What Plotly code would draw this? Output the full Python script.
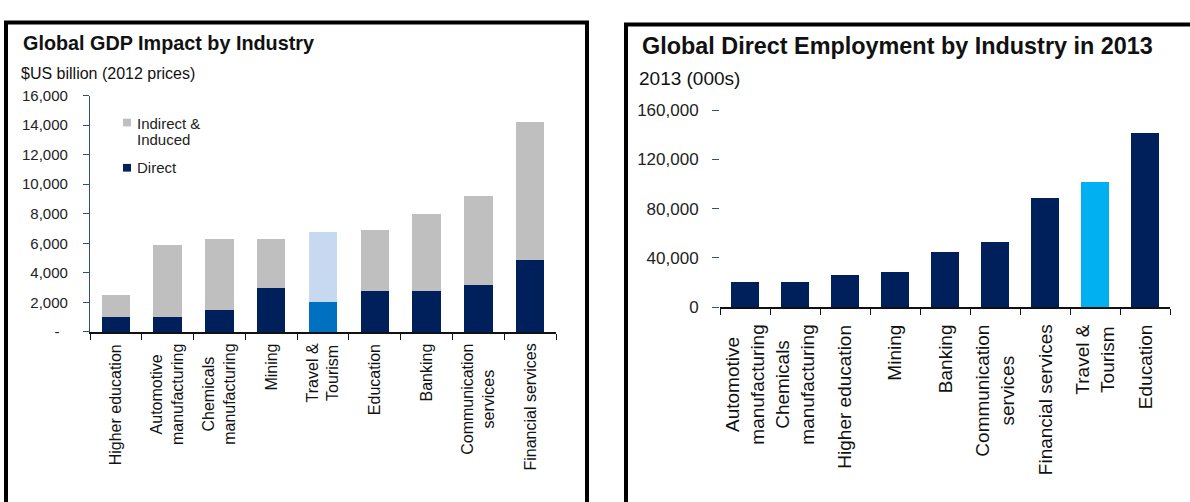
import plotly.graph_objects as go

# ---------------- data ----------------
gdp_categories = ["Higher education", "Automotive manufacturing", "Chemicals manufacturing",
                  "Mining", "Travel & Tourism", "Education", "Banking",
                  "Communication services", "Financial services"]
gdp_labels = ["Higher education", "Automotive<br>manufacturing", "Chemicals<br>manufacturing",
              "Mining", "Travel &<br>Tourism", "Education", "Banking",
              "Communication<br>services", "Financial services"]
gdp_direct = [1000, 1000, 1500, 3000, 2000, 2800, 2800, 3200, 4900]
gdp_indirect = [1500, 4900, 4800, 3300, 4800, 4100, 5200, 6000, 9300]
gdp_tickvals = [0, 2000, 4000, 6000, 8000, 10000, 12000, 14000, 16000]
gdp_ticktext = ["-\u00a0\u00a0", "2,000", "4,000", "6,000", "8,000", "10,000", "12,000", "14,000", "16,000"]

emp_categories = ["Automotive manufacturing", "Chemicals manufacturing", "Higher education",
                  "Mining", "Banking", "Communication services", "Financial services",
                  "Travel & Tourism", "Education"]
emp_labels = ["Automotive<br>manufacturing", "Chemicals<br>manufacturing", "Higher education",
              "Mining", "Banking", "Communication<br>services", "Financial services",
              "Travel &<br>Tourism", "Education"]
emp_values = [20500, 20500, 26000, 29000, 45000, 53000, 89000, 102000, 141000]
emp_tickvals = [0, 40000, 80000, 120000, 160000]
emp_ticktext = ["0", "40,000", "80,000", "120,000", "160,000"]

# ---------------- styles ----------------
W, H = 1190, 502
NAVY = "#00205b"
GREY = "#bfbfbf"
HL_DIRECT = "#0070c0"
HL_INDIRECT = "#c6d9f1"
HL_EMP = "#00b0f0"
SLATE = "#34536a"
FONT = "Liberation Sans, Arial, sans-serif"


def px(x):
    return x / W


def py(y):
    return 1 - y / H


HL = "Travel & Tourism"
direct_colors = [HL_DIRECT if c == HL else NAVY for c in gdp_categories]
indirect_colors = [HL_INDIRECT if c == HL else GREY for c in gdp_categories]
emp_colors = [HL_EMP if c == HL else NAVY for c in emp_categories]

fig = go.Figure()
fig.add_trace(go.Bar(x=gdp_categories, y=gdp_direct, name="Direct",
                     marker=dict(color=direct_colors, line=dict(width=0)),
                     xaxis="x", yaxis="y", showlegend=False))
fig.add_trace(go.Bar(x=gdp_categories, y=gdp_indirect, name="Indirect & Induced",
                     marker=dict(color=indirect_colors, line=dict(width=0)),
                     xaxis="x", yaxis="y", showlegend=False))
fig.add_trace(go.Bar(x=emp_categories, y=emp_values, name="Employment",
                     marker=dict(color=emp_colors, line=dict(width=0)),
                     xaxis="x2", yaxis="y2", showlegend=False, width=0.57))

fig.update_layout(
    width=W, height=H, autosize=False,
    margin=dict(l=0, r=0, t=0, b=0),
    paper_bgcolor="white", plot_bgcolor="white",
    barmode="stack", bargap=0.45,
    font=dict(family=FONT, color="#222222"),
    xaxis=dict(domain=[px(90), px(556)], anchor="y", type="category",
               showticklabels=False, showline=True, linecolor="#111111", linewidth=1.5,
               ticks="outside", tickson="boundaries", ticklen=6, tickcolor="#111111",
               showgrid=False, zeroline=False, fixedrange=True),
    yaxis=dict(domain=[py(335.7), py(90)], anchor="x", range=[0, 16000],
               tickvals=gdp_tickvals, ticktext=gdp_ticktext,
               showline=True, linecolor=SLATE, linewidth=1.2,
               ticks="outside", ticklen=6, tickcolor=SLATE, ticklabelstandoff=12,
               tickfont=dict(size=15, color="#222222"),
               showgrid=False, zeroline=False, fixedrange=True),
    xaxis2=dict(domain=[px(720), px(1170)], anchor="y2", type="category",
                showticklabels=False, showline=True, linecolor="#111111", linewidth=1.5,
                ticks="outside", tickson="boundaries", ticklen=6, tickcolor="#111111",
                showgrid=False, zeroline=False, fixedrange=True),
    yaxis2=dict(domain=[py(310), py(105)], anchor="x2", range=[0, 160000],
                tickvals=emp_tickvals, ticktext=emp_ticktext,
                showline=False, ticks="outside", ticklen=7, tickcolor=SLATE, tickwidth=1.2,
                ticklabelstandoff=10,
                tickfont=dict(size=17, color="#222222"),
                showgrid=False, zeroline=False, fixedrange=True),
)

annotations = []
# category labels (rotated)
for cat, lab in zip(gdp_categories, gdp_labels):
    annotations.append(dict(x=cat, xref="x", y=py(346), yref="paper", text=lab,
                            textangle=-90, xanchor="center", yanchor="top", align="center",
                            showarrow=False, font=dict(size=16, color="#111111")))
for cat, lab in zip(emp_categories, emp_labels):
    annotations.append(dict(x=cat, xref="x2", y=py(326), yref="paper", text=lab,
                            textangle=-90, xanchor="center", yanchor="top", align="center",
                            showarrow=False, font=dict(size=19, color="#111111")))

# titles
annotations += [
    dict(x=px(21), y=py(35), xref="paper", yref="paper", xanchor="left", yanchor="middle",
         text="<b>Global GDP Impact by Industry</b>", showarrow=False,
         font=dict(size=19.8, color="#111111")),
    dict(x=px(19), y=py(67), xref="paper", yref="paper", xanchor="left", yanchor="middle",
         text="$US billion (2012 prices)", showarrow=False,
         font=dict(size=16, color="#111111")),
    dict(x=px(640), y=py(38), xref="paper", yref="paper", xanchor="left", yanchor="middle",
         text="<b>Global Direct Employment by Industry in 2013</b>", showarrow=False,
         font=dict(size=23.4, color="#111111")),
    dict(x=px(637), y=py(72), xref="paper", yref="paper", xanchor="left", yanchor="middle",
         text="2013 (000s)", showarrow=False,
         font=dict(size=19, color="#111111")),
    # legend text
    dict(x=px(135), y=py(119), xref="paper", yref="paper", xanchor="left", yanchor="middle",
         text="Indirect &", showarrow=False, font=dict(size=15, color="#222222")),
    dict(x=px(135), y=py(136), xref="paper", yref="paper", xanchor="left", yanchor="middle",
         text="Induced", showarrow=False, font=dict(size=15, color="#222222")),
    dict(x=px(135), y=py(165), xref="paper", yref="paper", xanchor="left", yanchor="middle",
         text="Direct", showarrow=False, font=dict(size=15, color="#222222")),
]
fig.update_layout(annotations=annotations)

shapes = [
    # legend swatches
    dict(type="rect", xref="paper", yref="paper", x0=px(123), x1=px(131), y0=py(122), y1=py(114),
         fillcolor=GREY, line=dict(width=0)),
    dict(type="rect", xref="paper", yref="paper", x0=px(123), x1=px(131), y0=py(169), y1=py(161),
         fillcolor=NAVY, line=dict(width=0)),
    # panel borders
    dict(type="rect", xref="paper", yref="paper", x0=px(6), x1=px(587), y0=py(520), y1=py(14),
         fillcolor="rgba(0,0,0,0)", line=dict(color="black", width=4)),
    dict(type="rect", xref="paper", yref="paper", x0=px(626), x1=px(1200), y0=py(520), y1=py(16),
         fillcolor="rgba(0,0,0,0)", line=dict(color="black", width=4)),
]
fig.update_layout(shapes=shapes)

fig.write_html("out.html", config={"displayModeBar": False},
               post_script="document.body.style.margin='0';document.body.style.overflow='hidden';")
